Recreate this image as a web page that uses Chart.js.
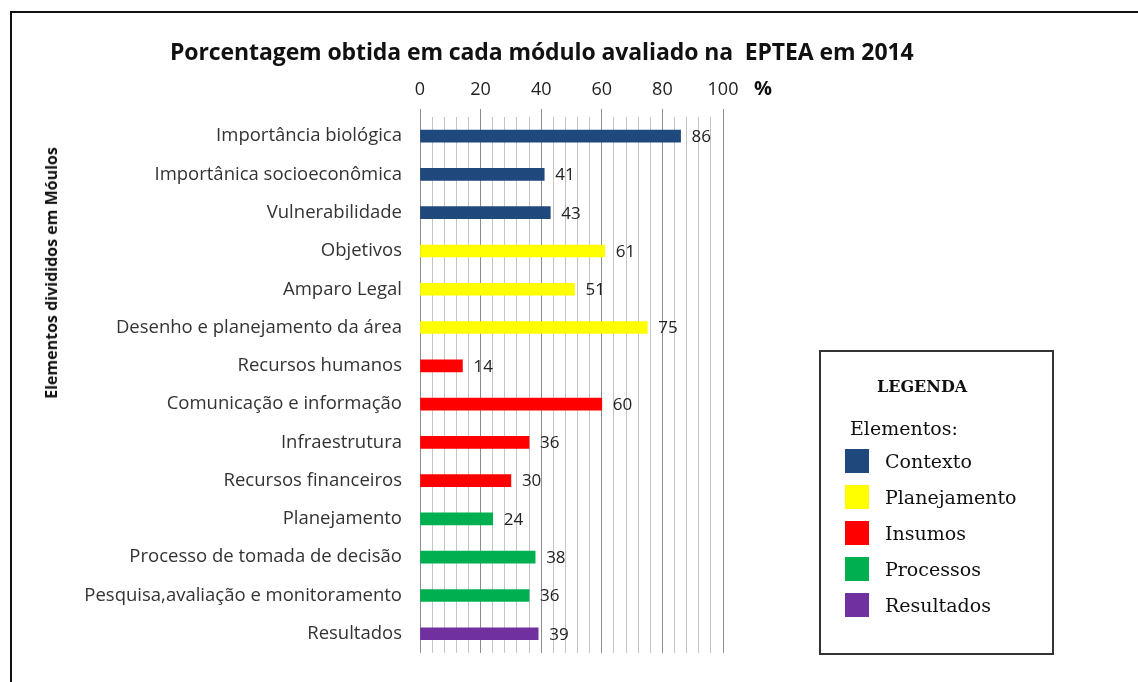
<!DOCTYPE html>
<html lang="pt">
<head>
<meta charset="utf-8">
<title>EPTEA 2014</title>
<script src="https://cdn.jsdelivr.net/npm/chart.js@4.4.1/dist/chart.umd.min.js"></script>
<style>
    body { margin: 0; background: #fff; }
    #wrap { position: relative; width: 1138px; height: 682px; overflow: hidden; }
    #frame { position: absolute; left: 10px; top: 11px; right: -10px; bottom: -10px;
             border-left: 2px solid #111; border-top: 2px solid #111; }
    #chartTitle { position: absolute; left: 170px; top: 35px; font: bold 23px 'Open Sans', sans-serif;
                  color: #111; white-space: pre; letter-spacing: -0.1px; }
    #yTitle { position: absolute; left: 51px; top: 273px; transform: translate(-50%, -50%) rotate(-90deg);
              font: bold 16px 'Open Sans', sans-serif; color: #111; white-space: nowrap; }
    #legend { position: absolute; left: 819px; top: 350px; width: 231px; height: 301px;
              border: 2px solid #333; font-family: 'DejaVu Serif', serif; color: #111; }
    #legend .head { position: absolute; left: 56px; top: 25px; font-weight: bold; font-size: 16px; }
    #legend .sub { position: absolute; left: 29px; top: 65px; font-size: 19px; }
    #legend .item { position: absolute; left: 24px; height: 24px; display: flex; align-items: center; font-size: 19px; }
    #legend .box { width: 24px; height: 24px; margin-right: 16px; }
    canvas { position: absolute; left: 0; top: 0; }
</style>
</head>
<body>
<div id="wrap">
    <div id="frame"></div>
    <canvas id="chart"></canvas>
    <div id="chartTitle">Porcentagem obtida em cada módulo avaliado na  EPTEA em 2014</div>
    <div id="yTitle">Elementos divididos em Móulos</div>
    <div id="legend">
        <div class="head">LEGENDA</div>
        <div class="sub">Elementos:</div>
        <div id="legendItems"></div>
    </div>
</div>
<script>
// Dados do gráfico
const modulos = [
    'Importância biológica',
    'Importânica socioeconômica',
    'Vulnerabilidade',
    'Objetivos',
    'Amparo Legal',
    'Desenho e planejamento da área',
    'Recursos humanos',
    'Comunicação e informação',
    'Infraestrutura',
    'Recursos financeiros',
    'Planejamento',
    'Processo de tomada de decisão',
    'Pesquisa,avaliação e monitoramento',
    'Resultados'
];
const porcentagens = [86, 41, 43, 61, 51, 75, 14, 60, 36, 30, 24, 38, 36, 39];
// elemento de cada módulo (índice em elementos)
const grupoDoModulo = [0, 0, 0, 1, 1, 1, 2, 2, 2, 2, 3, 3, 3, 4];
const elementos = ['Contexto', 'Planejamento', 'Insumos', 'Processos', 'Resultados'];
const coresElementos = ['#1F497D', '#FFFF00', '#FF0000', '#00B050', '#7030A0'];
const ticksX = [0, 20, 40, 60, 80, 100];

// Legenda em HTML
function buildLegend() {
    const box = document.getElementById('legendItems');
    elementos.forEach((nome, i) => {
        const item = document.createElement('div');
        item.className = 'item';
        item.style.top = (97 + i * 36) + 'px';
        item.innerHTML = `<div class="box" style="background:${coresElementos[i]}"></div>${nome}`;
        box.appendChild(item);
    });
}

// Rótulos de valor ao lado das barras e o símbolo %
const valueLabels = {
    id: 'valueLabels',
    afterDatasetsDraw(chart) {
        const ctx = chart.ctx;
        const meta = chart.getDatasetMeta(0);
        ctx.save();
        ctx.font = '17px "Open Sans", sans-serif';
        ctx.fillStyle = '#222';
        ctx.textBaseline = 'middle';
        meta.data.forEach((bar, i) => {
            ctx.fillText(porcentagens[i], bar.x + 11, bar.y + 1);
        });
        // símbolo de porcentagem depois do 100
        const xs = chart.scales.x;
        ctx.font = 'bold 20px "Open Sans", sans-serif';
        ctx.fillStyle = '#111';
        ctx.fillText('%', xs.getPixelForValue(100) + 31, 89);
        ctx.restore();
    }
};

function initChart() {
    const ctx = document.getElementById('chart').getContext('2d');
    new Chart(ctx, {
        type: 'bar',
        data: {
            labels: modulos,
            datasets: [{
                data: porcentagens,
                backgroundColor: grupoDoModulo.map(g => coresElementos[g]),
                borderWidth: 0,
                barThickness: 12
            }]
        },
        options: {
            indexAxis: 'y',
            responsive: false,
            animation: false,
            layout: { padding: { left: 0, top: 1, right: 415, bottom: 17 } },
            plugins: {
                legend: { display: false },
                tooltip: { enabled: false }
            },
            scales: {
                x: {
                    position: 'top',
                    min: 0,
                    max: 100,
                    afterFit: s => { s.height = 116; },
                    border: { display: false },
                    grid: {
                        color: c => (c.tick && c.tick.value % 20 === 0) ? '#8c8c8c' : '#c4c4c4',
                        tickColor: c => (c.tick && c.tick.value % 20 === 0) ? '#8c8c8c' : 'rgba(0,0,0,0)',
                        tickLength: 8
                    },
                    ticks: {
                        stepSize: 4,
                        autoSkip: false,
                        maxRotation: 0,
                        padding: 8,
                        color: '#222',
                        font: { family: 'Open Sans', size: 18 },
                        callback: v => ticksX.includes(v) ? v : ''
                    }
                },
                y: {
                    afterFit: s => { s.width = 420; },
                    border: { display: false },
                    grid: { display: false, drawTicks: false },
                    ticks: {
                        padding: 18,
                        color: '#333',
                        font: { family: 'Open Sans', size: 18.5 }
                    }
                }
            }
        },
        plugins: [valueLabels]
    });
}

document.addEventListener('DOMContentLoaded', function() {
    const canvas = document.getElementById('chart');
    canvas.width = 1138;
    canvas.height = 682;
    buildLegend();
    initChart();
});
</script>
</body>
</html>
